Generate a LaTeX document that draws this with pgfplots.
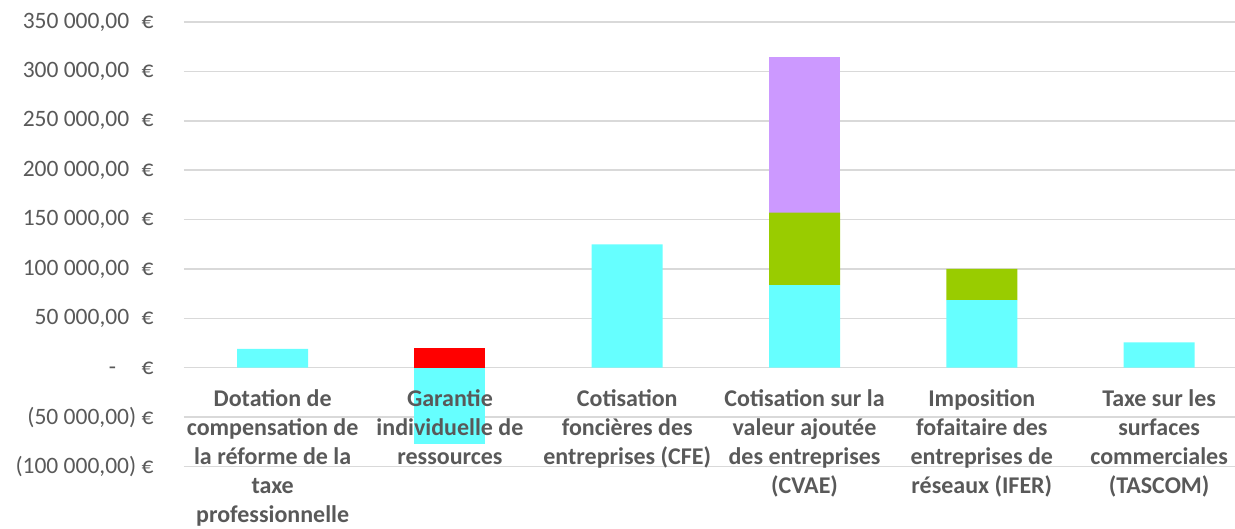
\documentclass[border=0pt]{standalone}
\usepackage{pgfplots}
\pgfplotsset{compat=1.18}
\usepackage{fontspec}
\setmainfont{Carlito}
\definecolor{cy}{HTML}{66FFFF}
\definecolor{rd}{HTML}{FF0000}
\definecolor{gr}{HTML}{99CC00}
\definecolor{pu}{HTML}{CC99FF}
\definecolor{txt}{HTML}{595959}
\definecolor{gridc}{HTML}{D9D9D9}
\pgfplotsset{
  common/.style={scale only axis, width=1051pt, height=444.5pt,
    xmin=-0.5, xmax=5.428, ymin=-100000, ymax=350000,
    axis line style={draw=none}, tick style={draw=none}, clip=false},
}
\begin{document}
\begin{tikzpicture}
\begin{axis}[name=a, common,
  ybar stacked, bar width=71pt,
  xmajorgrids=false, ymajorgrids=true, grid style={color=gridc, line width=1.5pt},
  scaled y ticks=false,
  ytick={-100000,-50000,0,50000,100000,150000,200000,250000,300000,350000},
  yticklabels={{(100 000,00) €},{(50 000,00) €},{-\hspace{13pt}\phantom{)} €},{50 000,00\hspace{7pt} €},{100 000,00\hspace{7pt} €},{150 000,00\hspace{7pt} €},{200 000,00\hspace{7pt} €},{250 000,00\hspace{7pt} €},{300 000,00\hspace{7pt} €},{350 000,00\hspace{7pt} €}},
  yticklabel style={font=\fontsize{23.5}{29}\selectfont, text=txt, anchor=east, xshift=-27pt},
  xtick={0,1,2,3,4,5}, xticklabels={},
]
% negative part (cyan)
\addplot[fill=cy, draw=none] coordinates {(0,0) (1,-77000) (2,0) (3,0) (4,0) (5,0)};
% cyan positive
\addplot[fill=cy, draw=none] coordinates {(0,19000) (1,0) (2,125000) (3,83500) (4,68500) (5,25700)};
% red
\addplot[fill=rd, draw=none] coordinates {(0,0) (1,20000) (2,0) (3,0) (4,0) (5,0)};
% green
\addplot[fill=gr, draw=none] coordinates {(0,0) (1,0) (2,0) (3,73500) (4,31500) (5,0)};
% purple
\addplot[fill=pu, draw=none] coordinates {(0,0) (1,0) (2,0) (3,158000) (4,0) (5,0)};
\end{axis}
\begin{axis}[common, ytick=\empty,
  xtick={0,1,2,3,4,5},
  xticklabels={{Dotation de\\compensation de\\la réforme de la\\taxe\\professionnelle},{Garantie\\individuelle de\\ressources},{Cotisation\\foncières des\\entreprises (CFE)},{Cotisation sur la\\valeur ajoutée\\des entreprises\\(CVAE)},{Imposition\\fofaitaire des\\entreprises de\\réseaux (IFER)},{Taxe sur les\\surfaces\\commerciales\\(TASCOM)}},
  xticklabel style={font=\fontsize{24}{29}\selectfont\bfseries, text=txt, align=center, anchor=north, yshift=80pt},
]
\end{axis}
\pgfresetboundingbox
\path ([xshift=-184pt,yshift=22pt]a.north west) rectangle ([yshift=-61.5pt]a.south east);
\end{tikzpicture}
\end{document}
